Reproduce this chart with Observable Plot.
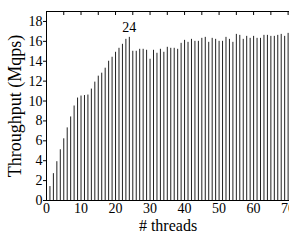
<!DOCTYPE html>
<html>
<head>
<meta charset="utf-8">
<script src="https://cdn.jsdelivr.net/npm/d3@7"></script>
<script src="https://cdn.jsdelivr.net/npm/@observablehq/plot@0.6"></script>
<style>
  html, body { margin: 0; padding: 0; background: #fff; }
  svg { display: block; }
</style>
</head>
<body>
<div id="chart"></div>
<script>
const threads = d3.range(1, 71);
const throughput = [
  1.4, 2.7, 3.9, 5.1, 6.2, 7.3, 8.4, 9.5, 10.3, 10.5,
  10.55, 10.6, 11.2, 11.9, 12.5, 12.8, 13.3, 14.0, 14.4, 14.9,
  15.3, 15.7, 16.2, 16.4, 15.0, 15.0, 15.2, 15.2, 15.1, 14.2,
  15.1, 14.8, 15.2, 14.9, 15.4, 15.3, 15.3, 15.2, 15.8, 16.1,
  15.9, 16.2, 16.0, 16.0, 16.3, 16.4, 15.9, 16.3, 16.2, 16.0,
  16.0, 16.4, 16.2, 15.9, 16.7, 16.6, 16.2, 16.5, 16.3, 16.5,
  16.3, 16.3, 16.6, 16.6, 16.5, 16.5, 16.6, 16.7, 16.5, 16.8
];
const annotations = [{thread: 24, value: 16.4, label: "24"}];
const xTicks = [0, 10, 20, 30, 40, 50, 60, 70];
const xMinorTicks = d3.range(0, 71, 5);
const yTicks = [0, 2, 4, 6, 8, 10, 12, 14, 16, 18];
const xLabel = "# threads";
const yLabel = "Throughput (Mqps)";

const data = threads.map((t, i) => ({thread: t, value: throughput[i]}));
const serif = "Liberation Serif, DejaVu Serif, serif";

const chart = Plot.plot({
  width: 289,
  height: 244,
  marginLeft: 46,
  marginRight: 0,
  marginTop: 11,
  marginBottom: 44,
  style: {background: "#fff", color: "#000", fontFamily: serif},
  x: {domain: [0, 70.4]},
  y: {domain: [0, 19]},
  marks: [
    Plot.ruleX(data, {x: "thread", y1: 0, y2: "value", stroke: "#222", strokeWidth: 1}),
    Plot.text(annotations, {x: "thread", y: "value", text: "label", dy: -10, fontSize: 14, fill: "#000"}),
    Plot.axisX({ticks: xTicks, tickSize: 0, tickPadding: 3, fontSize: 14, label: null}),
    Plot.axisX({anchor: "top", ticks: xMinorTicks, tickSize: -3, tickFormat: () => "", label: null}),
    Plot.axisY({ticks: yTicks, tickSize: 3, tickPadding: 1, fontSize: 14, label: null}),
    Plot.ruleX([0], {stroke: "#000"}),
    Plot.ruleY([0], {stroke: "#000"}),
    Plot.frame({anchor: "top", stroke: "#000"}),
    Plot.text([xLabel], {frameAnchor: "bottom", textAnchor: "middle", dy: 30, fontSize: 16, fill: "#000"}),
    Plot.text([yLabel], {frameAnchor: "left", textAnchor: "middle", rotate: -90, dx: -31, fontSize: 18, fill: "#000"})
  ]
});
chart.querySelectorAll("text").forEach(t => t.setAttribute("font-family", serif));
document.getElementById("chart").appendChild(chart);
</script>
</body>
</html>
